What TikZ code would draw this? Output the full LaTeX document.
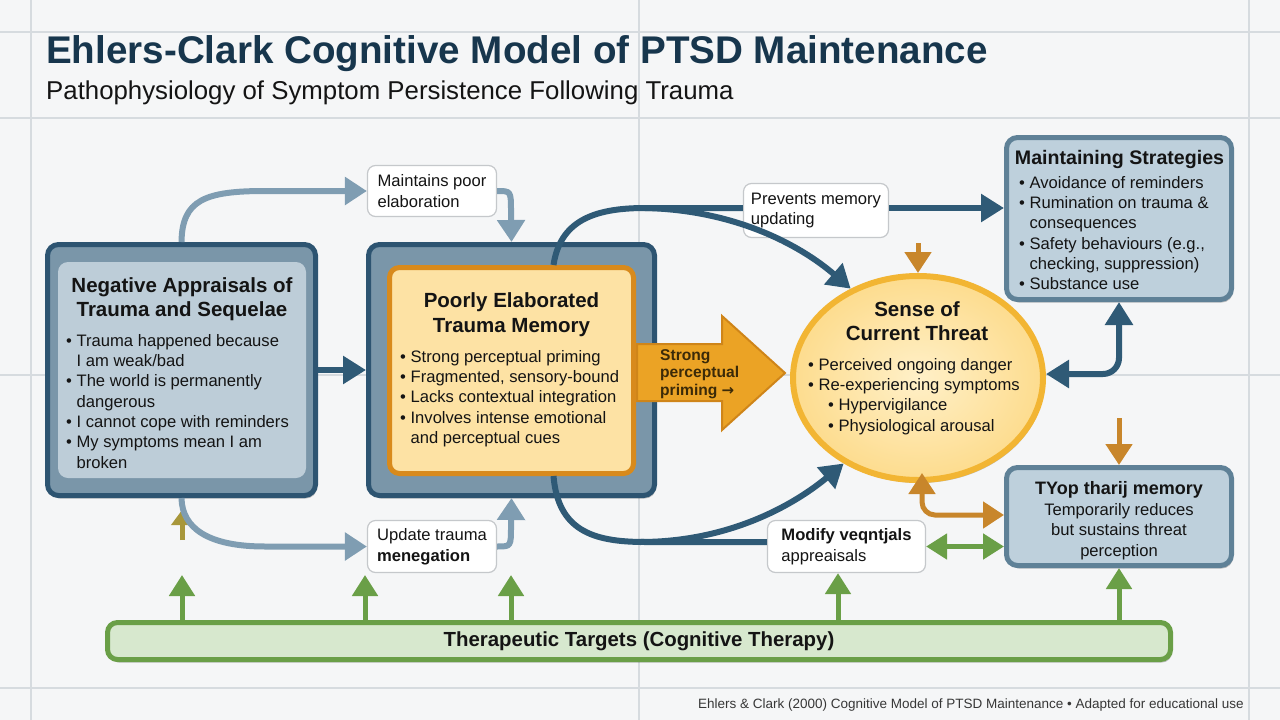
\documentclass[tikz,border=0pt]{standalone}
\usepackage{fontspec}
\setmainfont{Liberation Sans}
\newfontfamily\dejavu{DejaVu Sans}
\usetikzlibrary{arrows.meta,shapes.geometric,shadows,calc}
\definecolor{bg}{HTML}{F5F6F7}
\definecolor{gridc}{HTML}{D6DBDF}
\definecolor{titlecol}{HTML}{17364D}
\definecolor{dkborder}{HTML}{2D5471}
\definecolor{midfill}{HTML}{7A96A9}
\definecolor{lightin}{HTML}{BDCDD8}
\definecolor{orborder}{HTML}{D88A1C}
\definecolor{orfill}{HTML}{FDE2A4}
\definecolor{ellborder}{HTML}{F2B533}
\definecolor{ellin}{HTML}{FFF0C8}
\definecolor{ellout}{HTML}{FDDC8E}
\definecolor{fatfill}{HTML}{EBA325}
\definecolor{fatborder}{HTML}{CF8519}
\definecolor{sideborder}{HTML}{5F8197}
\definecolor{sidefill}{HTML}{BED0DC}
\definecolor{ltarrow}{HTML}{7F9DB2}
\definecolor{dkarrow}{HTML}{2F5A76}
\definecolor{grn}{HTML}{6A9F47}
\definecolor{grnfill}{HTML}{D7E8CE}
\definecolor{brn}{HTML}{C8862B}
\definecolor{olivec}{HTML}{A8973B}
\definecolor{lblborder}{HTML}{C5C8CB}
\definecolor{txt}{HTML}{141414}
\definecolor{fattxt}{HTML}{3B2A08}
\newcommand\fsz[2]{\fontsize{#1}{#2}\selectfont}
\newcommand\bu{\textbullet\ }
\newcommand\bi{\phantom{\textbullet\ }}
\tikzset{
  shad/.style={drop shadow={shadow xshift=1.5pt,shadow yshift=-3pt,opacity=0.22,fill=black}},
  outerbox/.style={draw=dkborder,line width=5pt,fill=midfill,rounded corners=11pt,shad},
  innerbl/.style={fill=lightin,draw=none,rounded corners=10pt},
  orbox/.style={draw=orborder,line width=5pt,fill=orfill,rounded corners=10pt},
  threatst/.style={ellipse,draw=ellborder,line width=6pt,inner color=ellin,outer color=ellout,shad},
  sidebox/.style={draw=sideborder,line width=5pt,fill=sidefill,rounded corners=11pt,shad},
  lbl/.style={draw=lblborder,line width=1.2pt,fill=white,rounded corners=8pt,align=left,
    font=\fsz{16.6}{20.5},text=txt,inner sep=0pt},
  therbox/.style={draw=grn,line width=5pt,fill=grnfill,rounded corners=10pt,shad,
    font=\bfseries\fsz{20.4}{24},text=txt},
  ttl/.style={font=\bfseries\fsz{20.5}{24},text=txt,align=center,inner sep=0pt},
  bul/.style={font=\fsz{16.6}{20.35},text=txt,align=left,inner sep=0pt},
  gridline/.style={draw=gridc,line width=1.3pt},
  darr/.style={draw=dkarrow,line width=6pt,-{Triangle[length=23pt,width=27pt]}},
  dline/.style={draw=dkarrow,line width=6pt},
  larr/.style={draw=ltarrow,line width=6pt,-{Triangle[length=22pt,width=27pt]}},
  garr/.style={draw=grn,line width=5pt,-{Triangle[length=21pt,width=25pt]}},
  barr/.style={draw=brn,line width=5pt,-{Triangle[length=21pt,width=26pt]}},
  oarr/.style={draw=olivec,line width=5pt,-{Triangle[length=15pt,width=21pt]}},
}
\begin{document}
\begin{tikzpicture}[x=1pt,y=-1pt]
\useasboundingbox (0,0) rectangle (1280,720);
\fill[bg] (0,0) rectangle (1280,720);
% grid
\draw[gridline] (0,32) -- (1280,32);
\draw[gridline] (0,118) -- (1280,118);
\draw[gridline] (0,375) -- (1280,375);
\draw[gridline] (0,688) -- (1280,688);
\draw[gridline] (31,0) -- (31,720);
\draw[gridline] (639,0) -- (639,720);
\draw[gridline] (1249,0) -- (1249,720);

% titles
\node[anchor=base west,inner sep=0pt,text=titlecol,font=\bfseries\fsz{38.6}{44}] (title) at (46,63) {Ehlers-Clark Cognitive Model of PTSD Maintenance};
\node[anchor=base west,inner sep=0pt,text=txt,font=\fsz{25.8}{30}] (subtitle) at (46,99) {Pathophysiology of Symptom Persistence Following Trauma};

% ellipse first (under side boxes)
\node[threatst,minimum width=250pt,minimum height=204pt] (threat) at (918,378) {};

% negative appraisals
\node[outerbox,minimum width=268pt,minimum height=251pt] (neg) at (181.5,370) {};
\node[innerbl,minimum width=248pt,minimum height=216pt] (negin) at (182,370) {};
\node[ttl,anchor=north] (negtitle) at (182,277.5) {Negative Appraisals of\\Trauma and Sequelae};
\node[bul,anchor=north west] (negbul) at (66,334) {\bu Trauma happened because\\
\bi I am weak/bad\\
\bu The world is permanently\\
\bi dangerous\\
\bu I cannot cope with reminders\\
\bu My symptoms mean I am\\
\bi broken};

% poorly elaborated
\node[outerbox,minimum width=286pt,minimum height=251pt] (poor) at (511.5,370) {};
\node[orbox,minimum width=244pt,minimum height=206pt] (poorin) at (511.5,370.5) {};
\node[ttl,anchor=north,font=\bfseries\fsz{20.5}{25}] (poortitle) at (511.5,292.5) {Poorly Elaborated\\Trauma Memory};
\node[bul,anchor=north west] (poorbul) at (400,350) {\bu Strong perceptual priming\\
\bu Fragmented, sensory-bound\\
\bu Lacks contextual integration\\
\bu Involves intense emotional\\
\bi and perceptual cues};

% fat arrow
\fill[fatfill,draw=fatborder,line width=2pt,line join=miter]
  (637,344) -- (722,344) -- (722,316) -- (785,373) -- (722,430) -- (722,401) -- (637,401) -- cycle;
\node[anchor=north west,inner sep=0pt,align=left,text=fattxt,font=\bfseries\fsz{15.6}{17.6}] (fattext) at (660,349)
  {Strong\\perceptual\\priming {\dejavu\bfseries\fsz{15}{17}→}};

% threat text
\node[ttl,anchor=north] (threattitle) at (917,301.5) {Sense of\\Current Threat};
\node[bul,anchor=north west] (threatbul) at (808,358) {\bu Perceived ongoing danger\\
\bu Re-experiencing symptoms\\
\hspace*{20pt}\bu Hypervigilance\\
\hspace*{20pt}\bu Physiological arousal};

% maintaining strategies
\node[sidebox,minimum width=225pt,minimum height=162pt] (maint) at (1119,218.5) {};
\node[ttl,anchor=north,font=\bfseries\fsz{19.6}{24}] (mainttitle) at (1119.5,150) {Maintaining Strategies};
\node[bul,anchor=north west] (maintbul) at (1019,176) {\bu Avoidance of reminders\\
\bu Rumination on trauma \&\\
\bi consequences\\
\bu Safety behaviours (e.g.,\\
\bi checking, suppression)\\
\bu Substance use};

% TYop box
\node[sidebox,minimum width=225pt,minimum height=98pt] (tyop) at (1119,516.5) {};
\node[ttl,anchor=north,font=\bfseries\fsz{18}{22}] (tyoptitle) at (1119,481) {TYop tharij memory};
\node[bul,anchor=north,align=center,font=\fsz{16.6}{20.5}] (tyoptext) at (1119,503) {Temporarily reduces\\but sustains threat\\perception};

% labels
\node[lbl,minimum width=129pt,minimum height=51pt] (lab1) at (432,191) {Maintains poor\\elaboration};
\node[lbl,minimum width=145pt,minimum height=54pt] (lab2) at (816,210.5) {Prevents memory\\updating};
\node[lbl,minimum width=129pt,minimum height=52pt] (lab3) at (432,546.5) {Update trauma\\\textbf{menegation}};
\node[lbl,minimum width=158pt,minimum height=52pt] (lab4) at (846.5,546.5) {\textbf{Modify veqntjals}\\appreaisals};

% therapeutic targets
\node[therbox,minimum width=1063pt,minimum height=37pt] (ther) at (639,641) {Therapeutic Targets (Cognitive Therapy)};

% footnote
\node[anchor=base east,inner sep=0pt,text=txt!85,font=\fsz{13.5}{16}] (foot) at (1244,708) {Ehlers \& Clark (2000) Cognitive Model of PTSD Maintenance \textbullet\ Adapted for educational use};

% ---------- connectors ----------
% olive arrow (behind)
\coordinate (o1) at (182,540);
\coordinate (o2) at (182,510);
\draw[oarr] (o1) -- (o2);

% light steel-blue arrows
\draw[larr] (neg.north) .. controls (182,200) and (205,191) .. (265,191) -- (lab1.west);
\draw[larr] (lab1.east) .. controls (511,191) .. (511,212) -- (poor.north);
\draw[larr] (neg.south) .. controls (182,528) and (208,546.5) .. (265,546.5) -- (lab3.west);
\draw[larr] (lab3.east) .. controls (511,546.5) .. (511,526) -- (poor.south);

% dark arrows
\draw[darr] (neg.east) -- (poor.west);
\coordinate (tA) at ([xshift=42pt]poorin.north);
\coordinate (tB) at (645,208);
\draw[dline] (tA) .. controls (560,222) and (592,208) .. (645,208) -- ([yshift=2.5pt]lab2.west);
\draw[darr] ([yshift=2.5pt]lab2.east) -- ([yshift=2.5pt]lab2.east -| maint.west);
\draw[darr] (tB) .. controls (735,210) and (800,245) .. (threat.127);
\coordinate (bA) at ([xshift=42pt]poorin.south);
\coordinate (bB) at (640,542);
\draw[dline] (bA) .. controls (558,530) and (592,542) .. (645,542) -- ([yshift=4.5pt]lab4.west);
\draw[darr] (bB) .. controls (735,542) and (800,500) .. (threat.229);
\draw[darr,{Triangle[length=23pt,width=27pt]}-{Triangle[length=23pt,width=27pt]},rounded corners=16pt]
  ([yshift=4pt]threat.east) -| (maint.south);

% brown arrows
\coordinate (b1) at (918,243);
\draw[barr] (b1) -- (threat.north);
\coordinate (b2) at (1119,418);
\draw[barr] (b2) -- (tyop.north);
\draw[barr,{Triangle[length=21pt,width=26pt]}-{Triangle[length=21pt,width=26pt]},rounded corners=13pt]
  ([xshift=4pt,yshift=10pt]threat.south) |- ([yshift=1.5pt]tyop.west);

% green arrows
\coordinate (g1) at (182,575);
\coordinate (g2) at (365,575);
\coordinate (g3) at (511,575);
\draw[garr] (ther.north -| g1) -- (g1);
\draw[garr] (ther.north -| g2) -- (g2);
\draw[garr] (ther.north -| g3) -- (g3);
\draw[garr] (ther.north -| 838,0) -- ([xshift=-8.5pt]lab4.south);
\draw[garr] (ther.north -| tyop.south) -- (tyop.south);
\draw[garr,{Triangle[length=21pt,width=25pt]}-{Triangle[length=21pt,width=25pt]}] (lab4.east) -- (lab4.east -| tyop.west);
\end{tikzpicture}
\end{document}
